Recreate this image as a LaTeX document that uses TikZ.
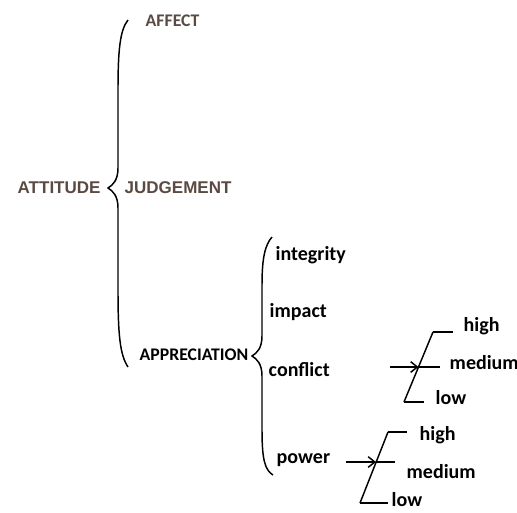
\documentclass[tikz,border=0pt]{standalone}
\usepackage{fontspec}
\setmainfont{Carlito}
\newfontfamily\arialfont{Liberation Sans}
\usetikzlibrary{arrows.meta,calc}
\definecolor{systemgrey}{RGB}{90,74,66}

\begin{document}
\begin{tikzpicture}[x=0.75pt, y=-0.75pt, line width=1.1pt,
    >={Straight Barb[length=5pt, width=8pt]},
    head/.style={inner sep=0pt, anchor=base west, text=systemgrey, font=\arialfont\bfseries\fontsize{12.75}{15}\selectfont},
    sub/.style={inner sep=0pt, anchor=base west, font=\bfseries\fontsize{13.3}{16}\selectfont},
    term/.style={inner sep=0pt, anchor=base west, font=\bfseries\fontsize{15}{18}\selectfont}]
\useasboundingbox ( 0, 0 ) rectangle ( 517, 512 );

% Attitude system
\node (att) at ( 17, 193 ) [head] {ATTITUDE};
\node (aff) at ( 145, 26 ) [sub, text=systemgrey] {AFFECT};
\node (jud) at ( 124, 193 ) [head] {JUDGEMENT};
\node (app) at ( 139, 360 ) [sub] {APPRECIATION};
\coordinate (attTop) at ( 128, 20 );
\coordinate (attTip) at ( 108, 188 );
\coordinate (attBot) at ( 128, 367 );
\draw (attTop) .. controls ( 120, 30 ) and ( 118, 50 ) .. ( 118, 90 ) -- ( 118, 168 )
  .. controls ( 118, 180 ) and ( 113, 185 ) .. (attTip)
  .. controls ( 113, 191 ) and ( 118, 196 ) .. ( 118, 208 ) -- ( 118, 290 )
  .. controls ( 118, 335 ) and ( 120, 355 ) .. (attBot);

% Appreciation
\node (integ) at ( 275, 260 ) [term] {integrity};
\node (imp) at ( 269, 317 ) [term] {impact};
\node (conf) at ( 268, 376 ) [term] {conflict};
\node (pow) at ( 276, 463 ) [term] {power};
\coordinate (appTop) at ( 272, 237 );
\coordinate (appTip) at ( 252, 356 );
\coordinate (appBot) at ( 273, 475 );
\draw (appTop) .. controls ( 265, 245 ) and ( 262, 258 ) .. ( 262, 285 ) -- ( 262, 336 )
  .. controls ( 262, 348 ) and ( 257, 353 ) .. (appTip)
  .. controls ( 257, 359 ) and ( 262, 364 ) .. ( 262, 376 ) -- ( 262, 430 )
  .. controls ( 262, 460 ) and ( 265, 470 ) .. (appBot);

% Conflict scale
\coordinate (cfIn) at ( 390, 367 );
\coordinate (cfLow) at ( 404, 402 );
\coordinate (cfHigh) at ( 433, 332 );
\coordinate (cfMid) at ($(cfLow)!0.5!(cfHigh)$);
\draw (cfLow) -- (cfHigh);
\draw (cfHigh) -- ++( 20, 0 );
\draw (cfMid) -- ++( 21, 0 );
\draw (cfLow) -- ++( 20, 0 );
\path [->] (cfIn) edge (cfMid);
\node (cfh) at ( 463, 331 ) [term] {high};
\node (cfm) at ( 449, 369 ) [term] {medium};
\node (cfl) at ( 435, 404 ) [term] {low};

% Power scale
\coordinate (pwIn) at ( 346, 462 );
\coordinate (pwLow) at ( 360, 503 );
\coordinate (pwHigh) at ( 388, 432 );
\coordinate (pwMid) at ( 376, 462 );
\draw (pwLow) -- (pwHigh);
\draw (pwHigh) -- ++( 19, 0 );
\draw (pwMid) -- ++( 19, 0 );
\draw (pwLow) -- ++( 28, 0 );
\path [->] (pwIn) edge (pwMid);
\node (pwh) at ( 419, 440 ) [term] {high};
\node (pwm) at ( 406, 478 ) [term] {medium};
\node (pwl) at ( 391, 506 ) [term] {low};

\end{tikzpicture}
\end{document}
